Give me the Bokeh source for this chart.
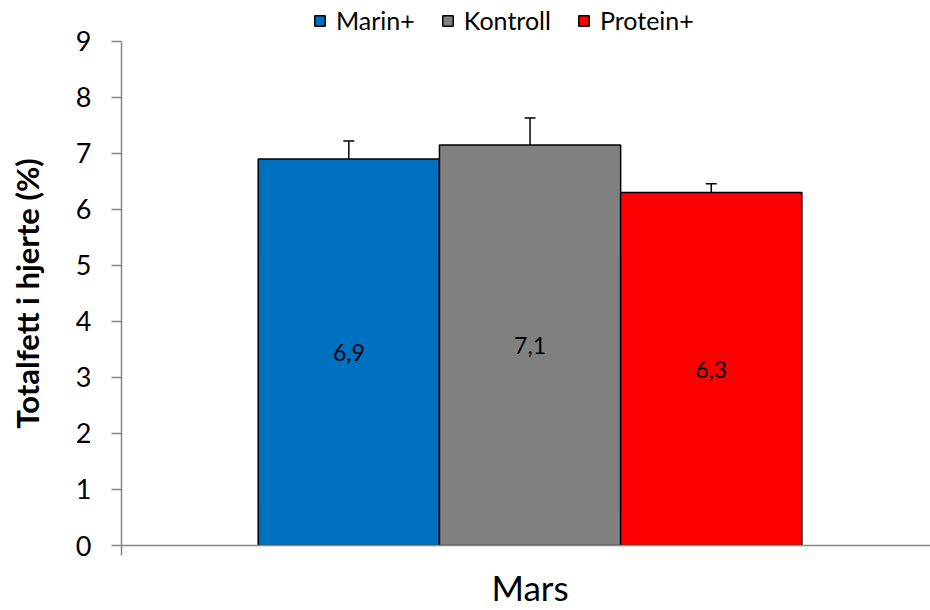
import math
from bokeh.plotting import figure
from bokeh.layouts import row
from bokeh.models import (ColumnDataSource, Range1d, FixedTicker, Whisker, TeeHead,
                          Legend, LegendItem)
from bokeh.core.properties import value
from bokeh.embed import file_html
from bokeh.resources import INLINE

# ---- data ----
groups = ["Mars"]
series = ["Marin+", "Kontroll", "Protein+"]
values = [6.9, 7.15, 6.3]
errors = [0.32, 0.48, 0.16]
data_labels = ["6,9", "7,1", "6,3"]
colors = ["#0070C0", "#808080", "#FF0000"]
y_ticks = [0, 1, 2, 3, 4, 5, 6, 7, 8, 9]
y_label = "Totalfett i hjerte (%)"

FONT = "Lato"
AXIS_GREY = "#868686"
bar_w = 0.224
offsets = [-bar_w, 0.0, bar_w]
group_center = 0.505  # position of the single group on the x axis
y_top = 9.64          # headroom above the axis end for the legend

TOTAL_W, TOTAL_H = 930, 610
LABEL_W = 55
TOP, BOTTOM = 5, 64

xs = [group_center + o for o in offsets]
src = ColumnDataSource(dict(
    x=xs, top=values, color=colors, name=series,
    upper=[v + e for v, e in zip(values, errors)],
    lower=values,
    mid=[v / 2 for v in values],
    lab=data_labels,
))

p = figure(width=TOTAL_W - LABEL_W, height=TOTAL_H, x_range=Range1d(0, 1), y_range=Range1d(0, y_top),
           output_backend="svg", toolbar_location=None,
           min_border_left=121 - LABEL_W, min_border_right=0,
           min_border_top=TOP, min_border_bottom=BOTTOM)
p.outline_line_color = None
p.xgrid.grid_line_color = None
p.ygrid.grid_line_color = None
p.background_fill_color = "white"
p.border_fill_color = "white"

# bars, one renderer per series for the legend
renderers = []
for i, s in enumerate(series):
    r = p.vbar(x=[xs[i]], top=[values[i]], width=bar_w, bottom=0,
               fill_color=colors[i], line_color="black", line_width=1.5)
    renderers.append(r)

# error bars (upper only)
wh = Whisker(source=src, base="x", upper="upper", lower="lower", dimension="height",
             line_color="black", line_width=1.5,
             upper_head=TeeHead(size=11, line_color="black", line_width=1.5),
             lower_head=None)
p.add_layout(wh)

# data labels in the middle of the bars
p.text(x="x", y="mid", text="lab", source=src, text_align="center", text_baseline="middle",
       text_font=value(FONT), text_font_size="23px", text_color="black")

# y axis (line limited to 0..9)
ya = p.yaxis[0]
ya.ticker = FixedTicker(ticks=y_ticks)
ya.bounds = (y_ticks[0], y_ticks[-1])
ya.axis_line_color = AXIS_GREY
ya.axis_line_width = 1.5
ya.major_tick_line_color = AXIS_GREY
ya.major_tick_line_width = 1.5
ya.major_tick_out = 10
ya.major_tick_in = 0
ya.minor_tick_line_color = None
ya.major_label_text_font = FONT
ya.major_label_text_font_size = "27px"
ya.major_label_text_color = "black"
ya.major_label_standoff = 20

# x axis
xa = p.xaxis[0]
xa.ticker = FixedTicker(ticks=[group_center], minor_ticks=[0])
xa.major_label_overrides = {group_center: groups[0]}
xa.axis_line_color = AXIS_GREY
xa.axis_line_width = 1.5
xa.major_tick_line_color = None
xa.major_tick_out = 0
xa.minor_tick_line_color = AXIS_GREY
xa.minor_tick_line_width = 1.5
xa.minor_tick_out = 10
xa.minor_tick_in = 0
xa.major_label_text_font = FONT
xa.major_label_text_font_size = "35px"
xa.major_label_text_color = "black"
xa.major_label_standoff = 10

# legend on top, above the end of the y axis
legend = Legend(items=[LegendItem(label=s, renderers=[r]) for s, r in zip(series, renderers)],
                orientation="horizontal", location=(192, 510),
                label_text_font=FONT, label_text_font_size="25px", label_text_color="black",
                glyph_width=13, glyph_height=13, label_standoff=10, spacing=26,
                padding=0, margin=0, border_line_color=None, background_fill_alpha=0)
p.add_layout(legend)

# y-axis title in a narrow strip on the left, centred on the 0..9 axis
q = figure(width=LABEL_W, height=TOTAL_H, x_range=Range1d(0, LABEL_W), y_range=p.y_range,
           output_backend="svg", toolbar_location=None, min_border=0)
q.outline_line_color = None
q.xaxis.visible = False
q.yaxis.visible = False
q.xgrid.visible = False
q.ygrid.visible = False
q.text(x=[26], y=[y_ticks[-1] / 2], text=[y_label], angle=math.pi / 2,
       text_align="center", text_baseline="middle",
       text_font=value(FONT), text_font_style="bold", text_font_size="31px", text_color="black")

layout = row(q, p, spacing=0)
open("out.html", "w").write(file_html(layout, INLINE))
